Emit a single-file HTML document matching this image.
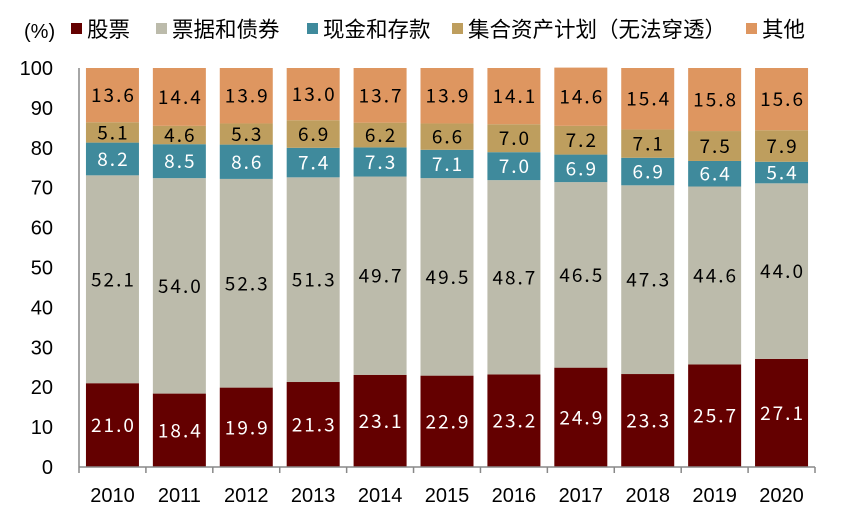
<!DOCTYPE html>
<html><head><meta charset="utf-8"><style>
body{margin:0;background:#fff;}
svg{display:block;font-family:"Liberation Sans","Noto Sans CJK SC",sans-serif;}
.lbl{font-family:"Noto Sans CJK SC","WenQuanYi Zen Hei",sans-serif;font-size:19px;letter-spacing:2px;}
</style></head><body>
<svg id="chart" width="853" height="520">
<g id="legend"></g>
<g id="yaxis"></g>
<g id="bars"></g>
<g id="xaxis"></g>
</svg>
<script>
const years = ["2010","2011","2012","2013","2014","2015","2016","2017","2018","2019","2020"];
const stocks = [21.0,18.4,19.9,21.3,23.1,22.9,23.2,24.9,23.3,25.7,27.1];
const bills = [52.1,54.0,52.3,51.3,49.7,49.5,48.7,46.5,47.3,44.6,44.0];
const cash = [8.2,8.5,8.6,7.4,7.3,7.1,7.0,6.9,6.9,6.4,5.4];
const collective = [5.1,4.6,5.3,6.9,6.2,6.6,7.0,7.2,7.1,7.5,7.9];
const other = [13.6,14.4,13.9,13.0,13.7,13.9,14.1,14.6,15.4,15.8,15.6];
const yTicks = [0,10,20,30,40,50,60,70,80,90,100];
const seriesNames = ["股票","票据和债券","现金和存款","集合资产计划（无法穿透）","其他"];

const NS="http://www.w3.org/2000/svg";
const x0=79, x1=815, yTop=68, yBot=467;
const bandW=(x1-x0)/years.length, barW=53;
const y=v=>yBot-(v/100)*(yBot-yTop);
const xc=i=>x0+bandW*(i+0.5);
function mk(tag,attrs,parent){const e=document.createElementNS(NS,tag);for(const k in attrs)e.setAttribute(k,attrs[k]);parent.appendChild(e);return e;}
const series=[stocks,bills,cash,collective,other];
const colors=["#640000","#BCBBAB","#3F8A9C","#BE9E5E","#DE9660"];
const txtCol=["#fff","#000","#fff","#000","#000"];
const slugs=["stocks","bills-bonds","cash-deposits","collective-plans","other"];

const bars=document.getElementById('bars');
years.forEach((yr,i)=>{
  let base=0;
  series.forEach((s,k)=>{
    const v=s[i];
    let top=base+v; if(k===4) top=Math.max(top,100);
    const r=mk('rect',{x:xc(i)-barW/2,y:y(top),width:barW,height:y(base)-y(top),fill:colors[k]},bars);
    
    
    const t=mk('text',{x:xc(i)+1,y:(y(base)+y(top))/2+7,'text-anchor':'middle',fill:txtCol[k],class:'lbl'},bars);
    t.textContent=v.toFixed(1);
    
    
    base=top;
  });
});

const ya=document.getElementById('yaxis');
mk('line',{x1:x0,y1:yTop,x2:x0,y2:yBot,stroke:'#888','stroke-width':1.5},ya);
yTicks.forEach(v=>{
  const t=mk('text',{x:53,y:y(v)+7,'text-anchor':'end','font-size':20,fill:'#000'},ya);
  t.textContent=v;
  
  
});
const xa=document.getElementById('xaxis');
mk('line',{x1:x0,y1:yBot,x2:x1,y2:yBot,stroke:'#888','stroke-width':1.5},xa);
for(let i=0;i<=years.length;i++) mk('line',{x1:x0+bandW*i,y1:yBot,x2:x0+bandW*i,y2:yBot+6,stroke:'#888','stroke-width':1.5},xa);
years.forEach((yr,i)=>{
  const t=mk('text',{x:xc(i),y:502,'text-anchor':'middle','font-size':20,fill:'#000'},xa);
  t.textContent=yr;
  
  
});

const lg=document.getElementById('legend');
const u=mk('text',{x:24,y:38,'font-size':20,fill:'#000'},lg);
u.textContent='(%)';


const lx=[71,156,307,452,746];
seriesNames.forEach((n,k)=>{
  const r=mk('rect',{x:lx[k],y:23,width:11,height:11,fill:colors[k]},lg);
  
  
  const t=mk('text',{x:lx[k]+16,y:37,'font-size':21.5,fill:'#000'},lg);
  t.textContent=n;
  
  
});
</script>
</body></html>
